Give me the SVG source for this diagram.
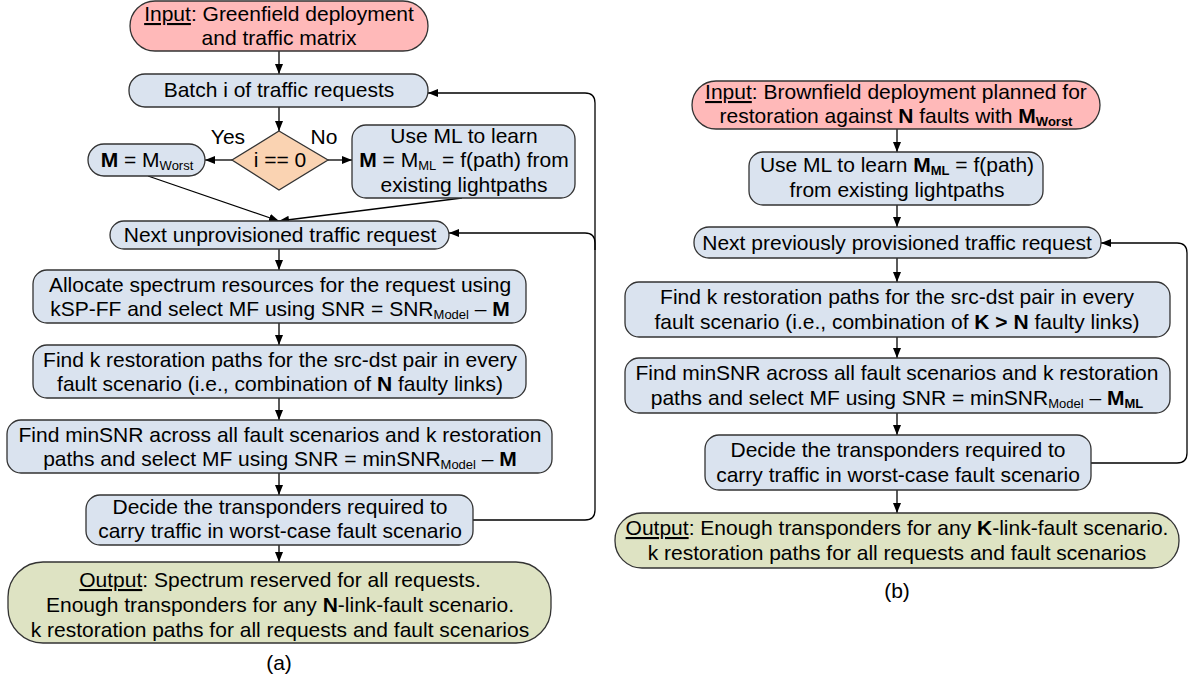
<svg xmlns="http://www.w3.org/2000/svg" width="1191" height="682" viewBox="0 0 1191 682">
<defs>
<style>
.t{font-family:"Liberation Sans",Arial,sans-serif;font-size:21px;fill:#000;text-anchor:middle}
.b{font-weight:bold}
.s{font-size:13px}
.u{text-decoration:underline}
.box{fill:#DAE3EF;stroke:#333;stroke-width:1.3}
.in{fill:#FFB9B9;stroke:#333;stroke-width:1.3}
.out{fill:#DEE3C3;stroke:#333;stroke-width:1.3}
.dia{fill:#FAD3B2;stroke:#333;stroke-width:1.3}
.c{fill:none;stroke:#000;stroke-width:1.3}
</style>
<marker id="ah" markerWidth="10" markerHeight="8" refX="10" refY="4" orient="auto" markerUnits="userSpaceOnUse"><path d="M0,0 L10,4 L0,8 z" fill="#000"/></marker>
</defs>

<g id="connectors">
<line class="c" x1="279" y1="51" x2="279" y2="74" marker-end="url(#ah)"/>
<line class="c" x1="279" y1="107" x2="279" y2="131" marker-end="url(#ah)"/>
<line class="c" x1="232" y1="160" x2="205" y2="160" marker-end="url(#ah)"/>
<line class="c" x1="328" y1="160" x2="352" y2="160" marker-end="url(#ah)"/>
<line class="c" x1="148" y1="176" x2="279" y2="221" marker-end="url(#ah)"/>
<line class="c" x1="462" y1="198" x2="279" y2="221" marker-end="url(#ah)"/>
<line class="c" x1="279" y1="249" x2="279" y2="270" marker-end="url(#ah)"/>
<line class="c" x1="279" y1="323" x2="279" y2="345" marker-end="url(#ah)"/>
<line class="c" x1="279" y1="398" x2="279" y2="420" marker-end="url(#ah)"/>
<line class="c" x1="279" y1="473" x2="279" y2="495" marker-end="url(#ah)"/>
<line class="c" x1="279" y1="545" x2="279" y2="562" marker-end="url(#ah)"/>
<path class="c" d="M473,520 H585 Q595,520 595,510 V103 Q595,93 585,93 H428" marker-end="url(#ah)"/>
<path class="c" d="M595,250 V243 Q595,233 585,233 H449" marker-end="url(#ah)"/>

<line class="c" x1="897" y1="129" x2="897" y2="152" marker-end="url(#ah)"/>
<line class="c" x1="897" y1="205" x2="897" y2="227" marker-end="url(#ah)"/>
<line class="c" x1="897" y1="258" x2="897" y2="282" marker-end="url(#ah)"/>
<line class="c" x1="897" y1="337" x2="897" y2="358" marker-end="url(#ah)"/>
<line class="c" x1="897" y1="413" x2="897" y2="435" marker-end="url(#ah)"/>
<line class="c" x1="897" y1="490" x2="897" y2="513" marker-end="url(#ah)"/>
<path class="c" d="M1091,463 H1177 Q1187,463 1187,453 V253 Q1187,243 1177,243 H1101" marker-end="url(#ah)"/>
</g>

<g id="a-input">
<rect class="in" x="130" y="1" width="298" height="50" rx="25"/>
<text class="t" x="279" y="21"><tspan class="u">Input</tspan>: Greenfield deployment</text>
<text class="t" x="279" y="45">and traffic matrix</text>
</g>
<g id="a-batch">
<rect class="box" x="129" y="74" width="299" height="33" rx="16"/>
<text class="t" x="279" y="97">Batch i of traffic requests</text>
</g>
<g id="a-decision">
<polygon class="dia" points="279,131 328,160 279,190 232,160"/>
<text class="t" x="280" y="167">i == 0</text>
<text class="t" x="228" y="144">Yes</text>
<text class="t" x="324" y="144">No</text>
</g>
<g id="a-mworst">
<rect class="box" x="88" y="144" width="117" height="32" rx="16"/>
<text class="t" x="147" y="167"><tspan class="b">M</tspan> = M<tspan class="s" dy="3">Worst</tspan></text>
</g>
<g id="a-useml">
<rect class="box" x="352" y="125" width="223" height="73" rx="14"/>
<text class="t" x="464" y="143">Use ML to learn</text>
<text class="t" x="464" y="167"><tspan class="b">M</tspan> = M<tspan class="s" dy="3">ML</tspan><tspan dy="-3"> = f(path) from</tspan></text>
<text class="t" x="464" y="192">existing lightpaths</text>
</g>
<g id="a-next">
<rect class="box" x="110" y="221" width="339" height="28" rx="14"/>
<text class="t" x="280" y="242">Next unprovisioned traffic request</text>
</g>
<g id="a-allocate">
<rect class="box" x="33" y="270" width="493" height="53" rx="14"/>
<text class="t" x="280" y="292">Allocate spectrum resources for the request using</text>
<text class="t" x="280" y="316">kSP-FF and select MF using SNR = SNR<tspan class="s" dy="3">Model</tspan><tspan dy="-3"> – </tspan><tspan class="b">M</tspan></text>
</g>
<g id="a-findk">
<rect class="box" x="33" y="345" width="493" height="53" rx="14"/>
<text class="t" x="280" y="367">Find k restoration paths for the src-dst pair in every</text>
<text class="t" x="280" y="391">fault scenario (i.e., combination of <tspan class="b">N</tspan> faulty links)</text>
</g>
<g id="a-minsnr">
<rect class="box" x="7" y="420" width="545" height="53" rx="14"/>
<text class="t" x="280" y="442">Find minSNR across all fault scenarios and k restoration</text>
<text class="t" x="280" y="466">paths and select MF using SNR = minSNR<tspan class="s" dy="3">Model</tspan><tspan dy="-3"> – </tspan><tspan class="b">M</tspan></text>
</g>
<g id="a-decide">
<rect class="box" x="86" y="495" width="387" height="50" rx="14"/>
<text class="t" x="280" y="514">Decide the transponders required to</text>
<text class="t" x="280" y="538">carry traffic in worst-case fault scenario</text>
</g>
<g id="a-output">
<rect class="out" x="8" y="562" width="543" height="81" rx="35"/>
<text class="t" x="280" y="587"><tspan class="u">Output</tspan>: Spectrum reserved for all requests.</text>
<text class="t" x="280" y="612">Enough transponders for any <tspan class="b">N</tspan>-link-fault scenario.</text>
<text class="t" x="280" y="637">k restoration paths for all requests and fault scenarios</text>
</g>
<g id="a-label">
<text class="t" x="279" y="670">(a)</text>
</g>

<g id="b-input">
<rect class="in" x="692" y="81" width="408" height="48" rx="24"/>
<text class="t" x="896" y="99"><tspan class="u">Input</tspan>: Brownfield deployment planned for</text>
<text class="t" x="896" y="123">restoration against <tspan class="b">N</tspan> faults with <tspan class="b">M</tspan><tspan class="s b" dy="3">Worst</tspan></text>
</g>
<g id="b-useml">
<rect class="box" x="749" y="152" width="294" height="53" rx="14"/>
<text class="t" x="897" y="172">Use ML to learn <tspan class="b">M</tspan><tspan class="s b" dy="3">ML</tspan><tspan dy="-3"> = f(path)</tspan></text>
<text class="t" x="897" y="197">from existing lightpaths</text>
</g>
<g id="b-next">
<rect class="box" x="694" y="227" width="407" height="31" rx="15"/>
<text class="t" x="897" y="250">Next previously provisioned traffic request</text>
</g>
<g id="b-findk">
<rect class="box" x="625" y="282" width="545" height="55" rx="14"/>
<text class="t" x="897" y="304">Find k restoration paths for the src-dst pair in every</text>
<text class="t" x="897" y="329">fault scenario (i.e., combination of <tspan class="b">K &gt; N</tspan> faulty links)</text>
</g>
<g id="b-minsnr">
<rect class="box" x="625" y="358" width="545" height="55" rx="14"/>
<text class="t" x="897" y="380">Find minSNR across all fault scenarios and k restoration</text>
<text class="t" x="897" y="405">paths and select MF using SNR = minSNR<tspan class="s" dy="3">Model</tspan><tspan dy="-3"> – </tspan><tspan class="b">M</tspan><tspan class="s b" dy="3">ML</tspan></text>
</g>
<g id="b-decide">
<rect class="box" x="705" y="435" width="386" height="55" rx="14"/>
<text class="t" x="898" y="457">Decide the transponders required to</text>
<text class="t" x="898" y="482">carry traffic in worst-case fault scenario</text>
</g>
<g id="b-output">
<rect class="out" x="615" y="513" width="564" height="55" rx="27"/>
<text class="t" x="897" y="535"><tspan class="u">Output</tspan>: Enough transponders for any <tspan class="b">K</tspan>-link-fault scenario.</text>
<text class="t" x="897" y="560">k restoration paths for all requests and fault scenarios</text>
</g>
<g id="b-label">
<text class="t" x="897" y="598">(b)</text>
</g>
</svg>
